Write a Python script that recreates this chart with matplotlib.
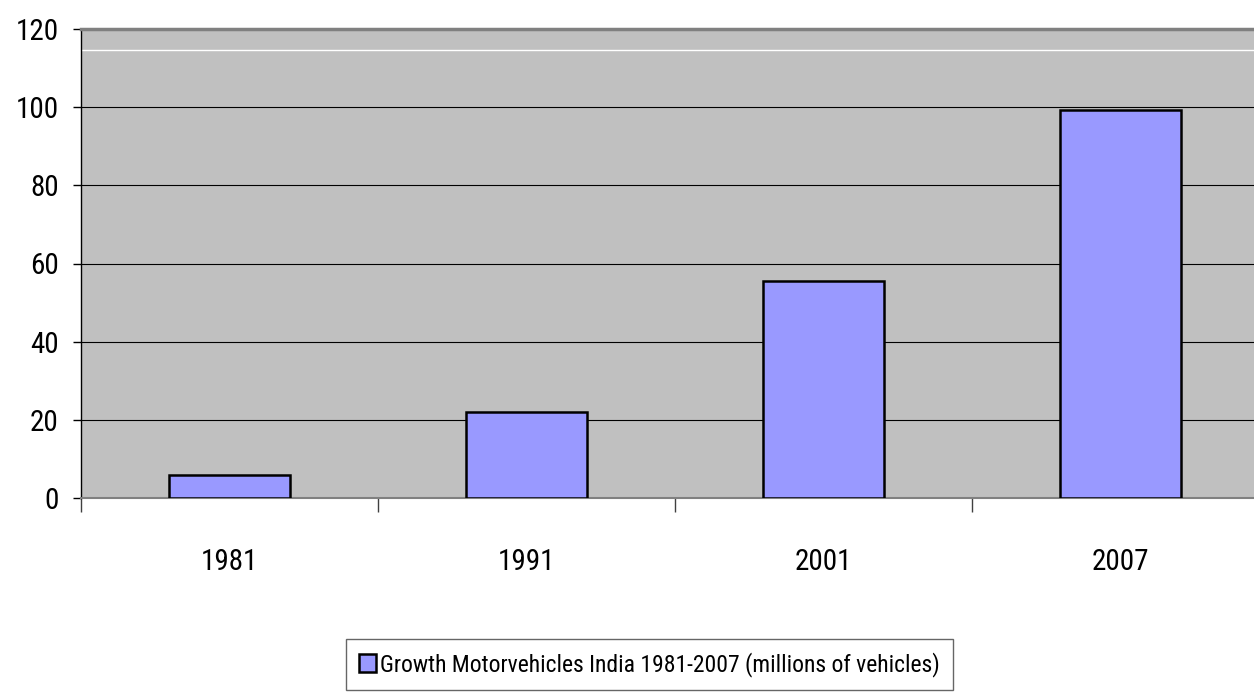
import matplotlib.pyplot as plt
from matplotlib import font_manager

# values
years = ["1981", "1991", "2001", "2007"]
vehicles = [5.9, 22.0, 55.5, 99.2]
y_ticks = [0, 20, 40, 60, 80, 100, 120]
legend_label = "Growth Motorvehicles India 1981-2007 (millions of vehicles)"


def pick_narrow_font():
    """Find a narrow sans face (the original uses Arial Narrow)."""
    fonts = font_manager.fontManager.ttflist
    wanted = ["Liberation Sans Narrow", "Roboto Condensed", "Open Sans Condensed",
              "DejaVu Sans Condensed"]
    for name in wanted:
        for f in fonts:
            if f.name == name and f.style == "normal" and f.weight in (400, "normal", "regular"):
                return f.name, f.stretch
    # face registered under the base family with a condensed stretch
    for f in fonts:
        if f.name in ("Roboto", "DejaVu Sans", "Open Sans", "Noto Sans") \
                and "condensed" in str(f.stretch) and f.style == "normal" \
                and f.weight in (400, "normal", "regular"):
            return f.name, f.stretch
    return "Liberation Sans", "normal"


family, stretch = pick_narrow_font()
plt.rcParams["font.family"] = [family, "DejaVu Sans"]
plt.rcParams["font.stretch"] = stretch

fig = plt.figure(figsize=(12.54, 6.97), dpi=100)
# plot area runs past the right edge, like the original screenshot
ax = fig.add_axes([81 / 1254, 1 - 498 / 697, 1188 / 1254, 469 / 697])
ax.set_facecolor("#C0C0C0")

x = list(range(len(years)))
ax.bar(x, vehicles, width=0.405, color="#9999FF", edgecolor="black",
       linewidth=1.8, zorder=3, label=legend_label)

ax.set_xlim(-0.5, len(years) - 0.5)
ax.set_ylim(0, 120)
ax.set_yticks(y_ticks)
ax.yaxis.grid(True, color="black", linewidth=0.8, zorder=1)
ax.axhline(114.5, color="white", linewidth=1.0, zorder=2)

# category labels centred, tick marks on the boundaries
ax.set_xticks(x)
ax.set_xticklabels(years)
ax.set_xticks([i - 0.5 for i in range(len(years) + 1)], minor=True)
ax.tick_params(axis="x", which="major", length=0, pad=36, labelsize=21)
ax.tick_params(axis="x", which="minor", length=10, width=1.0, color="#404040",
               direction="out")
ax.tick_params(axis="y", length=6, width=1.0, pad=10, labelsize=21)

ax.spines["top"].set_color("#808080")
ax.spines["top"].set_linewidth(2.5)
ax.spines["bottom"].set_color("#808080")
ax.spines["bottom"].set_linewidth(1.5)
ax.spines["left"].set_color("black")
ax.spines["left"].set_linewidth(1.0)
ax.spines["right"].set_visible(False)
ax.set_axisbelow(True)

handles, labels = ax.get_legend_handles_labels()
leg = fig.legend(handles, labels, loc="upper left",
                 bbox_to_anchor=(346 / 1254, 1 - 639 / 697),
                 frameon=True, fancybox=False, fontsize=17,
                 handlelength=0.7, handleheight=0.8, handletextpad=0.2,
                 borderpad=0.55, borderaxespad=0)
leg.get_frame().set_edgecolor("#404040")
leg.get_frame().set_linewidth(1.0)

fig.savefig("out.png", dpi=100)
